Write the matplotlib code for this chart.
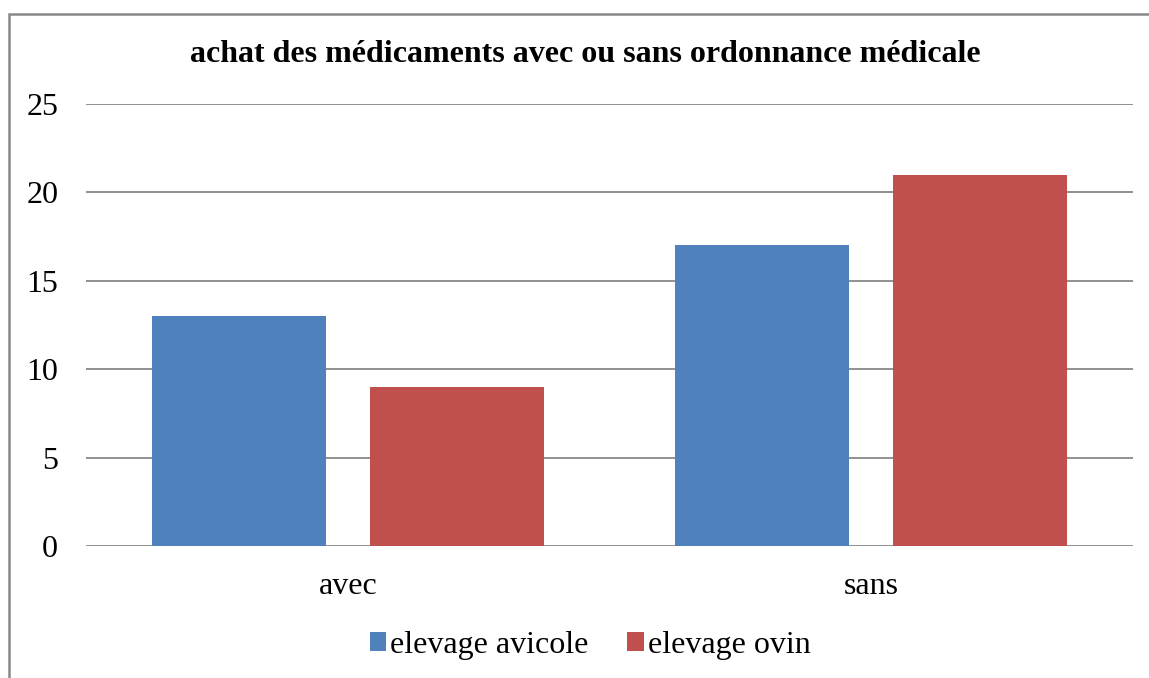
import matplotlib
matplotlib.use("Agg")
import matplotlib.pyplot as plt
from matplotlib.patches import Rectangle
import numpy as np

categories = ["avec", "sans"]
series_names = ["elevage avicole", "elevage ovin"]
avicole = [13, 17]
ovin = [9, 21]
yticks = [0, 5, 10, 15, 20, 25]
title = "achat des médicaments avec ou sans ordonnance médicale"

plt.rcParams['font.family'] = ['Liberation Serif', 'DejaVu Serif']

W, H = 1149, 678
fig = plt.figure(figsize=(W / 100, H / 100), dpi=100)
ax = fig.add_axes([86 / W, 1 - 546 / H, (1133 - 86) / W, (546 - 104) / H])

x = np.arange(len(categories))
bw = 0.332
off = 0.208
ax.bar(x - off, avicole, bw, color="#4F81BD", label=series_names[0], zorder=3)
ax.bar(x + off, ovin, bw, color="#C0504D", label=series_names[1], zorder=3)

ax.set_xlim(-0.5, 1.5)
ax.set_ylim(0, 25)
ax.set_yticks(yticks)
ax.set_yticklabels([str(v) for v in yticks])
ax.set_xticks(x)
ax.set_xticklabels(categories)
ax.tick_params(axis="both", length=0, labelsize=23, colors="black")
ax.tick_params(axis="y", pad=20)
ax.tick_params(axis="x", pad=19)
for s in ["top", "right", "left", "bottom"]:
    ax.spines[s].set_visible(False)
ax.grid(axis="y", color="#888888", linewidth=1.3, zorder=0)
ax.set_axisbelow(True)

fig.text(585 / W, 1 - 54 / H, title, ha="center", va="center",
         fontsize=23, fontweight="bold")

fig.legend(loc="center", bbox_to_anchor=(590 / W, 1 - 645 / H), ncol=2,
           frameon=False, fontsize=23, handlelength=0.53, handleheight=0.53,
           handletextpad=0.12, columnspacing=1.2)

border = Rectangle((8.5 / W, -0.1), 1.2, 1 - 13.5 / H + 0.1, transform=fig.transFigure,
                   fill=False, edgecolor="#888888", linewidth=1.8)
fig.patches.append(border)

fig.savefig("out.png", dpi=100)
